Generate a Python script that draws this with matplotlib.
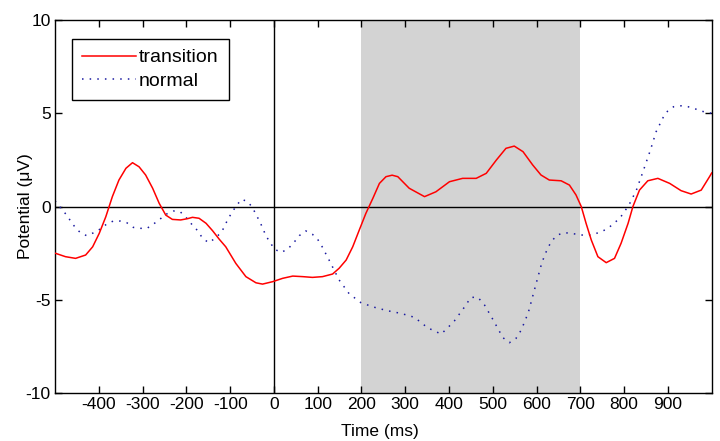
import matplotlib
matplotlib.use('Agg')
import matplotlib.pyplot as plt

# Values (time in ms, potential in microvolts)
transition_t = [-500, -476, -453, -430, -414, -399, -384, -369, -354, -338, -323, -308,
                -293, -277, -262, -247, -232, -213, -197, -186, -171, -155, -140, -125,
                -110, -87, -64, -41, -26, -3, 20, 43, 66, 88, 111, 134, 149, 165, 180,
                195, 210, 226, 241, 256, 270, 283, 309, 344, 370, 401, 431, 462, 485,
                508, 530, 549, 569, 591, 610, 629, 656, 675, 690, 702, 713, 725, 740,
                759, 778, 793, 809, 820, 835, 854, 877, 904, 930, 953, 976, 995, 1000]
transition_v = [-2.5, -2.69, -2.78, -2.6, -2.16, -1.44, -0.55, 0.53, 1.42, 2.05, 2.35, 2.13,
                1.69, 0.98, 0.17, -0.46, -0.69, -0.72, -0.65, -0.58, -0.63, -0.9, -1.3, -1.75,
                -2.16, -3.05, -3.76, -4.09, -4.16, -4.03, -3.85, -3.73, -3.76, -3.8, -3.76,
                -3.62, -3.31, -2.87, -2.16, -1.26, -0.37, 0.44, 1.24, 1.6, 1.68, 1.6, 0.98,
                0.53, 0.79, 1.33, 1.51, 1.51, 1.78, 2.49, 3.12, 3.24, 2.94, 2.23, 1.69, 1.42,
                1.38, 1.15, 0.62, 0.0, -0.9, -1.8, -2.69, -3.01, -2.78, -1.97, -0.9, 0.0,
                0.88, 1.38, 1.51, 1.24, 0.85, 0.67, 0.88, 1.6, 1.8]

normal_t = [-500, -485, -472, -462, -451, -441, -428, -413, -396, -382, -367, -351, -336,
            -321, -304, -290, -275, -260, -243, -229, -214, -199, -186, -174, -163, -149,
            -134, -119, -104, -85, -73, -58, -47, -31, -18, 1, 16, 31, 46, 58, 73, 88,
            100, 110, 126, 149, 172, 199, 229, 260, 290, 321, 351, 382, 397, 412, 435,
            450, 466, 481, 500, 523, 538, 553, 565, 581, 597, 612, 622, 633, 647, 664,
            687, 713, 730, 748, 763, 790, 811, 828, 843, 860, 873, 890, 900, 913, 930,
            946, 963, 976, 991, 1000]
normal_v = [0.3, -0.13, -0.5, -0.87, -1.2, -1.42, -1.56, -1.42, -1.2, -0.94, -0.78, -0.78,
            -0.87, -1.12, -1.17, -1.17, -0.94, -0.67, -0.37, -0.24, -0.28, -0.63, -1.0,
            -1.3, -1.7, -1.94, -1.7, -1.35, -0.63, 0.08, 0.39, 0.23, -0.15, -0.87, -1.58,
            -2.28, -2.46, -2.3, -1.92, -1.56, -1.31, -1.49, -1.76, -2.15, -2.87, -3.94,
            -4.68, -5.16, -5.4, -5.59, -5.73, -5.94, -6.5, -6.84, -6.5, -6.14, -5.4, -4.87,
            -4.87, -5.28, -6.05, -7.03, -7.3, -7.07, -6.62, -5.69, -4.3, -3.01, -2.42,
            -1.89, -1.53, -1.4, -1.47, -1.56, -1.49, -1.35, -1.17, -0.63, 0.08, 0.88, 1.87,
            3.03, 4.01, 4.82, 5.14, 5.35, 5.4, 5.35, 5.23, 5.12, 5.03, 5.0]

window = (200, 700)
xticks = list(range(-400, 1000, 100))
yticks = [-10, -5, 0, 5, 10]

plt.rcParams['font.family'] = ['Liberation Sans', 'DejaVu Sans']
plt.rcParams['axes.unicode_minus'] = False

fig = plt.figure(figsize=(7.2, 4.41), dpi=100)
ax = fig.add_axes([0.0764, 0.1088, 0.9121, 0.8458])

# Shaded analysis window
ax.axvspan(window[0], window[1], color='#d3d3d3', lw=0, zorder=0)

# Reference lines
ax.axhline(0, color='black', lw=1, zorder=1)
ax.axvline(0, color='black', lw=1, zorder=1)

ax.plot(transition_t, transition_v, color='red', lw=1.1, label='transition', zorder=3)
ax.plot(normal_t, normal_v, color='#1a1aa0', lw=1.1, linestyle=(0, (1, 4)),
        label='normal', zorder=2)

ax.set_xlim(-500, 1000)
ax.set_ylim(-10, 10)
ax.set_xticks(xticks)
ax.set_yticks(yticks)
ax.tick_params(direction='in', top=True, right=True, length=5, width=1,
               labelsize=12.5, pad=3)
for spine in ax.spines.values():
    spine.set_linewidth(1)
    spine.set_color('black')

ax.set_xlabel('Time (ms)', fontsize=12.5, va='top')
ax.xaxis.set_label_coords(0.495, -0.083)
ax.set_ylabel('Potential (\u03bcV)', fontsize=12.5)
ax.yaxis.set_label_coords(-0.034, 0.5)

leg = ax.legend(loc='upper left', bbox_to_anchor=(0.026, 0.949), borderaxespad=0,
                fontsize=14, handlelength=2.8, handletextpad=0.15, labelspacing=0.3,
                fancybox=False, framealpha=1, edgecolor='black', borderpad=0.5)
leg.get_frame().set_linewidth(1)

fig.savefig('out.png', dpi=100)
